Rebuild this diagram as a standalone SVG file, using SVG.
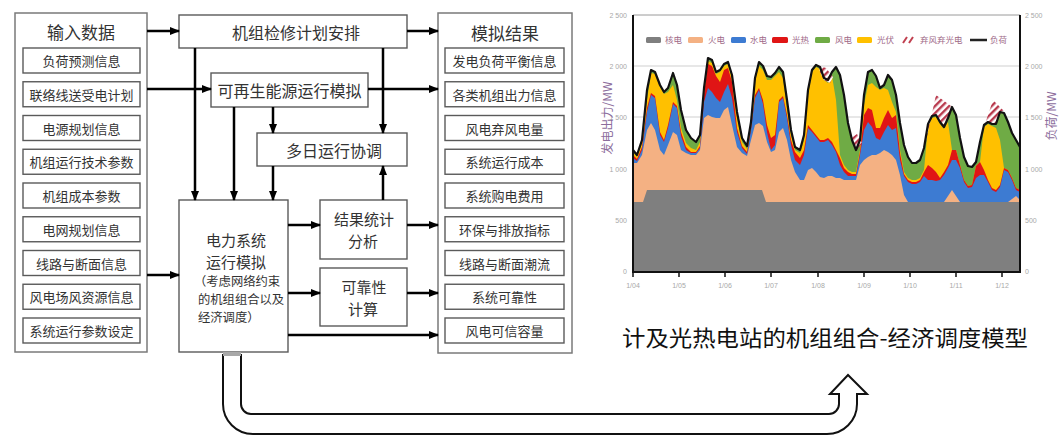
<svg xmlns="http://www.w3.org/2000/svg" width="1064" height="436" viewBox="0 0 1064 436">
<defs>
<style>
.frame{fill:#fff;stroke:#7a7a7a;stroke-width:1.5}
.box{fill:#fff;stroke:#5a5a5a;stroke-width:1.4}
.t{font-family:"Noto Sans CJK SC","Noto Sans",sans-serif;fill:#333;text-anchor:middle;dominant-baseline:central}
.s12{font-size:12.3px}
.s13{font-size:13px}
.s15{font-size:15px}
.s16{font-size:16px}
.s17{font-size:17px}
.tl{text-anchor:start}
.conn{stroke:#000;stroke-width:2.5;fill:none;marker-end:url(#ah)}
.tick{font-family:"Liberation Sans",sans-serif;font-size:7px;fill:#a8a8a8}
.leg{font-family:"Noto Sans CJK SC",sans-serif;font-size:8.5px;fill:#a06a88}
.grid{stroke:#cfcfcf;stroke-width:1}
</style>
<marker id="ah" markerWidth="10" markerHeight="8" refX="9" refY="4" orient="auto" markerUnits="userSpaceOnUse">
<path d="M0,0 L10,4 L0,8 z" fill="#000"/>
</marker>
<pattern id="hatch" width="5" height="5" patternUnits="userSpaceOnUse" patternTransform="rotate(45)">
<rect width="5" height="5" fill="#fff"/>
<rect width="2.4" height="5" fill="#b8384c"/>
</pattern>
</defs>
<rect width="1064" height="436" fill="#fff"/>

<g id="input-data">
<rect class="frame" x="15" y="13" width="132" height="339"/>
<text class="t s17" x="81" y="31">输入数据</text>
<rect class="box" x="23" y="48" width="117" height="25"/><text class="t s13" x="81.5" y="60.5">负荷预测信息</text>
<rect class="box" x="23" y="81.75" width="117" height="25"/><text class="t s13" x="81.5" y="94.25">联络线送受电计划</text>
<rect class="box" x="23" y="115.5" width="117" height="25"/><text class="t s13" x="81.5" y="128">电源规划信息</text>
<rect class="box" x="23" y="149.25" width="117" height="25"/><text class="t s13" x="81.5" y="161.75">机组运行技术参数</text>
<rect class="box" x="23" y="183" width="117" height="25"/><text class="t s13" x="81.5" y="195.5">机组成本参数</text>
<rect class="box" x="23" y="216.75" width="117" height="25"/><text class="t s13" x="81.5" y="229.25">电网规划信息</text>
<rect class="box" x="23" y="250.5" width="117" height="25"/><text class="t s13" x="81.5" y="263">线路与断面信息</text>
<rect class="box" x="23" y="284.25" width="117" height="25"/><text class="t s13" x="81.5" y="296.75">风电场风资源信息</text>
<rect class="box" x="23" y="318" width="117" height="25"/><text class="t s13" x="81.5" y="330.5">系统运行参数设定</text>
</g>

<g id="results">
<rect class="frame" x="438" y="13" width="134" height="340"/>
<text class="t s17" x="505" y="32">模拟结果</text>
<rect class="box" x="445" y="48" width="119" height="25"/><text class="t s13" x="504.5" y="60.5">发电负荷平衡信息</text>
<rect class="box" x="445" y="81.75" width="119" height="25"/><text class="t s13" x="504.5" y="94.25">各类机组出力信息</text>
<rect class="box" x="445" y="115.5" width="119" height="25"/><text class="t s13" x="504.5" y="128">风电弃风电量</text>
<rect class="box" x="445" y="149.25" width="119" height="25"/><text class="t s13" x="504.5" y="161.75">系统运行成本</text>
<rect class="box" x="445" y="183" width="119" height="25"/><text class="t s13" x="504.5" y="195.5">系统购电费用</text>
<rect class="box" x="445" y="216.75" width="119" height="25"/><text class="t s13" x="504.5" y="229.25">环保与排放指标</text>
<rect class="box" x="445" y="250.5" width="119" height="25"/><text class="t s13" x="504.5" y="263">线路与断面潮流</text>
<rect class="box" x="445" y="284.25" width="119" height="25"/><text class="t s13" x="504.5" y="296.75">系统可靠性</text>
<rect class="box" x="445" y="318" width="119" height="25"/><text class="t s13" x="504.5" y="330.5">风电可信容量</text>
</g>

<g id="maintenance">
<rect class="box" x="179" y="15" width="228" height="33"/>
<text class="t s16" x="296" y="31.5">机组检修计划安排</text>
</g>
<g id="renewable">
<rect class="box" x="211" y="73" width="157" height="34"/>
<text class="t s16" x="289.5" y="90">可再生能源运行模拟</text>
</g>
<g id="multiday">
<rect class="box" x="257" y="133" width="150" height="33"/>
<text class="t s16" x="334" y="149.5">多日运行协调</text>
</g>
<g id="simulation">
<rect class="box" x="179" y="200" width="109" height="152"/>
<text class="t s15" x="236" y="239">电力系统</text>
<text class="t s15" x="236" y="261">运行模拟</text>
<text class="t s12 tl" x="194" y="280.5">（考虑网络约束</text>
<text class="t s12 tl" x="198" y="298.5">的机组组合以及</text>
<text class="t s12 tl" x="198" y="316.5">经济调度）</text>
</g>
<g id="statistics">
<rect class="box" x="320" y="200" width="87" height="59"/>
<text class="t s15" x="364" y="218.5">结果统计</text>
<text class="t s15" x="363" y="240.5">分析</text>
</g>
<g id="reliability">
<rect class="box" x="320" y="268" width="87" height="58"/>
<text class="t s15" x="364" y="286">可靠性</text>
<text class="t s15" x="363" y="308">计算</text>
</g>

<g id="connectors">
<path class="conn" d="M147,31 H179"/>
<path class="conn" d="M147,89 H211"/>
<path class="conn" d="M147,275 H179"/>
<path class="conn" d="M407,31 H438"/>
<path class="conn" d="M368,89 H438"/>
<path class="conn" d="M195,48 V200"/>
<path class="conn" d="M383,48 V133"/>
<path class="conn" d="M234,107 V200"/>
<path class="conn" d="M273,107 V133"/>
<path class="conn" d="M273,166 V200"/>
<path class="conn" d="M383,200 V166"/>
<path class="conn" d="M288,225 H320"/>
<path class="conn" d="M288,293 H320"/>
<path class="conn" d="M407,225 H438"/>
<path class="conn" d="M407,293 H438"/>
<path class="conn" d="M288,335 H438"/>
</g>

<g id="big-arrow">
<path d="M223,354 V404 A30,30 0 0 0 253,434 H827 A30,30 0 0 0 857,404 V394 H867 L848,375 L830,394 H839 V404 A10,10 0 0 1 829,414 H251 A10,10 0 0 1 241,404 V354" fill="#fff" stroke="#111" stroke-width="2"/>
<rect x="223" y="352" width="18" height="4" fill="#a8a8a8"/>
</g>

<g id="chart">
<line class="grid" x1="633" y1="66" x2="1020" y2="66"/>
<line class="grid" x1="633" y1="117" x2="1020" y2="117"/>
<line x1="633" y1="15" x2="1020" y2="15" stroke="#9a9a9a" stroke-width="1"/>
<polygon fill="#6fab45" points="633,271 633,150 637,155 642,140 647,90 651,70 655,72 660,85 664,92 668,88 673,73 677,85 681,110 686,130 691,138 696,142 700,135 704,88 708,58 712,60 716,72 720,70 724,64 728,62 732,75 737,112 742,138 747,146 751,122 755,78 759,62 763,66 767,76 771,77 775,73 779,67 783,72 787,100 791,130 795,147 800,150 804,135 808,90 812,70 816,65 820,67 824,78 828,80 832,72 836,67 840,75 844,95 848,123 852,140 856,150 860,140 864,95 868,72 872,70 876,76 880,88 884,85 888,75 892,80 896,95 900,123 904,145 908,157 912,163 916,163 920,160 924,148 928,124 932,116 936,115 940,122 944,127 948,118 952,107 956,115 960,138 964,157 968,166 972,167 976,162 980,142 984,125 988,122 992,124 996,124 1000,112 1004,113 1008,122 1012,133 1016,140 1020,147 1020,271"/>
<polygon fill="#ffc000" points="633,271 633,152 637,157 642,143 647,100 651,73 655,74 660,87 664,94 668,92 673,85 677,100 681,128 686,143 691,148 696,150 700,142 704,92 708,61 712,63 716,74 720,72 724,66 728,64 732,78 737,118 742,142 747,149 751,125 755,80 759,66 763,70 767,80 771,80 775,76 779,72 783,78 787,108 791,135 795,150 800,153 804,140 808,95 812,72 816,67 820,69 824,80 828,83 832,76 836,100 840,155 844,165 848,170 852,172 856,172 860,150 864,105 868,85 872,83 876,87 880,90 884,88 888,90 892,102 896,112 900,150 904,172 908,178 912,180 916,180 920,178 924,170 928,126 932,118 936,117 940,124 944,129 948,122 952,150 956,150 960,165 964,180 968,186 972,185 976,166 980,162 984,127 988,124 992,126 996,128 1000,140 1004,168 1008,170 1012,178 1016,188 1020,190 1020,271"/>
<polygon fill="#e01515" points="633,271 633,155 637,159 642,147 647,108 651,93 655,96 660,132 664,140 668,125 673,102 677,106 681,132 686,147 691,152 696,152 700,146 704,94 708,64 712,66 716,76 720,82 724,70 728,68 732,82 737,128 742,146 747,152 751,128 755,95 759,88 763,100 767,125 771,138 775,135 779,100 783,96 787,115 791,140 795,152 800,158 804,150 808,125 812,130 816,135 820,140 824,140 828,138 832,142 836,150 840,158 844,168 848,172 852,174 856,174 860,152 864,115 868,108 872,110 876,128 880,128 884,118 888,110 892,118 896,115 900,153 904,174 908,180 912,182 916,182 920,180 924,172 928,165 932,168 936,172 940,178 944,172 948,165 952,150 956,150 960,165 964,180 968,186 972,185 976,166 980,162 984,170 988,180 992,188 996,190 1000,185 1004,168 1008,170 1012,178 1016,188 1020,190 1020,271"/>
<polygon fill="#3d7bd2" points="633,271 633,158 637,161 642,150 647,112 651,95 655,98 660,135 664,142 668,128 673,104 677,108 681,136 686,150 691,153 696,153 700,148 704,102 708,88 712,92 716,98 720,102 724,92 728,84 732,98 737,132 742,148 747,154 751,130 755,98 759,90 763,104 767,132 771,150 775,145 779,102 783,98 787,118 791,145 795,160 800,165 804,155 808,128 812,132 816,137 820,142 824,142 828,140 832,145 836,152 840,165 844,172 848,176 852,176 856,176 860,155 864,130 868,122 872,127 876,138 880,140 884,132 888,125 892,130 896,128 900,160 904,176 908,182 912,184 916,184 920,182 924,176 928,180 932,180 936,181 940,180 944,175 948,168 952,160 956,160 960,168 964,182 968,188 972,187 976,178 980,175 984,175 988,182 992,190 996,192 1000,187 1004,170 1008,172 1012,180 1016,190 1020,192 1020,271"/>
<polygon fill="#f4b183" points="633,271 633,163 637,163 642,155 647,130 651,123 655,130 660,150 664,155 668,145 673,132 677,135 681,150 686,153 691,155 696,155 700,150 704,118 708,115 712,117 716,118 720,118 724,110 728,107 732,125 737,147 742,153 747,156 751,140 755,125 759,123 763,126 767,142 771,152 775,150 779,132 783,128 787,140 791,160 795,172 800,180 804,180 808,170 812,168 816,172 820,177 824,178 828,176 832,176 836,178 840,178 844,180 848,180 852,180 856,180 860,165 864,160 868,157 872,155 876,155 880,153 884,150 888,152 892,155 896,160 900,175 904,195 908,202 944,202 948,196 952,190 956,196 960,202 1008,202 1012,199 1016,196 1020,200 1020,271"/>
<polygon fill="#7f7f7f" points="633,271 633,202 643,202 647,190 762,190 766,202 1020,202 1020,271"/>
<polygon fill="url(#hatch)" points="925,145 936,95 951,106 948,118 944,127 940,122 936,115 932,116 928,124"/>
<polygon fill="url(#hatch)" points="982,133 993,100 1004,111 1000,112 996,124 992,124 988,122 984,125"/>
<polygon fill="url(#hatch)" points="819,66 826,68 833,77 830,83 824,80 820,72"/>
<polygon fill="url(#hatch)" points="851,138 857,134 862,143 856,151"/>
<polyline fill="none" stroke="#111" stroke-width="2.2" stroke-linejoin="round" points="633,150 637,155 642,140 647,90 651,70 655,72 660,85 664,92 668,88 673,73 677,85 681,110 686,130 691,138 696,142 700,135 704,88 708,58 712,60 716,72 720,70 724,64 728,62 732,75 737,112 742,138 747,146 751,122 755,78 759,62 763,66 767,76 771,77 775,73 779,67 783,72 787,100 791,130 795,147 800,150 804,135 808,90 812,70 816,65 820,67 824,78 828,80 832,72 836,67 840,75 844,95 848,123 852,140 856,150 860,140 864,95 868,72 872,70 876,76 880,88 884,85 888,75 892,80 896,95 900,123 904,145 908,157 912,163 916,163 920,160 924,148 928,124 932,116 936,115 940,122 944,127 948,118 952,107 956,115 960,138 964,157 968,166 972,167 976,162 980,142 984,125 988,122 992,124 996,124 1000,112 1004,113 1008,122 1012,133 1016,140 1020,147"/>
<path d="M633,15 V272 H1020 V15" fill="none" stroke="#111" stroke-width="2"/>
<path d="M633,272 v5 M679,272 v5 M725,272 v5 M771,272 v5 M818,272 v5 M864,272 v5 M910,272 v5 M956,272 v5 M1002,272 v5" stroke="#111" stroke-width="1.5"/>
<g class="tick" text-anchor="end">
<text x="627" y="18">2 500</text><text x="627" y="69">2 000</text><text x="627" y="120">1 500</text><text x="627" y="172">1 000</text><text x="627" y="223">500</text><text x="627" y="274">0</text>
</g>
<g class="tick">
<text x="1025" y="18">2 500</text><text x="1025" y="69">2 000</text><text x="1025" y="120">1 500</text><text x="1025" y="172">1 000</text><text x="1025" y="223">500</text><text x="1025" y="274">0</text>
</g>
<g class="tick" text-anchor="middle">
<text x="633" y="288">1/04</text><text x="679" y="288">1/05</text><text x="725" y="288">1/06</text><text x="771" y="288">1/07</text><text x="818" y="288">1/08</text><text x="864" y="288">1/09</text><text x="910" y="288">1/10</text><text x="956" y="288">1/11</text><text x="1002" y="288">1/12</text>
</g>
<text transform="translate(606,118) rotate(-90)" font-family="Noto Sans CJK SC,sans-serif" font-size="12" fill="#8c6d9c" text-anchor="middle" dominant-baseline="central">发电出力/MW</text>
<text transform="translate(1050,116) rotate(-90)" font-family="Noto Sans CJK SC,sans-serif" font-size="12" fill="#8c6d9c" text-anchor="middle" dominant-baseline="central">负荷/MW</text>
<g id="legend">
<rect x="646" y="37" width="15" height="6" rx="1.5" fill="#7f7f7f"/><text class="leg" x="665" y="43">核电</text>
<rect x="688" y="37" width="15" height="6" rx="1.5" fill="#f4b183"/><text class="leg" x="708" y="43">火电</text>
<rect x="731" y="37" width="15" height="6" rx="1.5" fill="#3d7bd2"/><text class="leg" x="750" y="43">水电</text>
<rect x="772" y="37" width="16" height="6" rx="1.5" fill="#e01515"/><text class="leg" x="792" y="43">光热</text>
<rect x="815" y="37" width="15" height="6" rx="1.5" fill="#6fab45"/><text class="leg" x="835" y="43">风电</text>
<rect x="857" y="37" width="15" height="6" rx="1.5" fill="#ffc000"/><text class="leg" x="877" y="43">光伏</text>
<path d="M903,43 L907,37 M909,43 L913,37" stroke="#c04050" stroke-width="2"/><text class="leg" x="920" y="43">弃风弃光电</text>
<line x1="970" y1="40" x2="987" y2="40" stroke="#222" stroke-width="2.5"/><text class="leg" x="990" y="43">负荷</text>
</g>
</g>

<text x="622" y="346" font-family="Noto Sans CJK SC,sans-serif" font-size="22" fill="#111" textLength="406" lengthAdjust="spacingAndGlyphs">计及光热电站的机组组合-经济调度模型</text>
</svg>
